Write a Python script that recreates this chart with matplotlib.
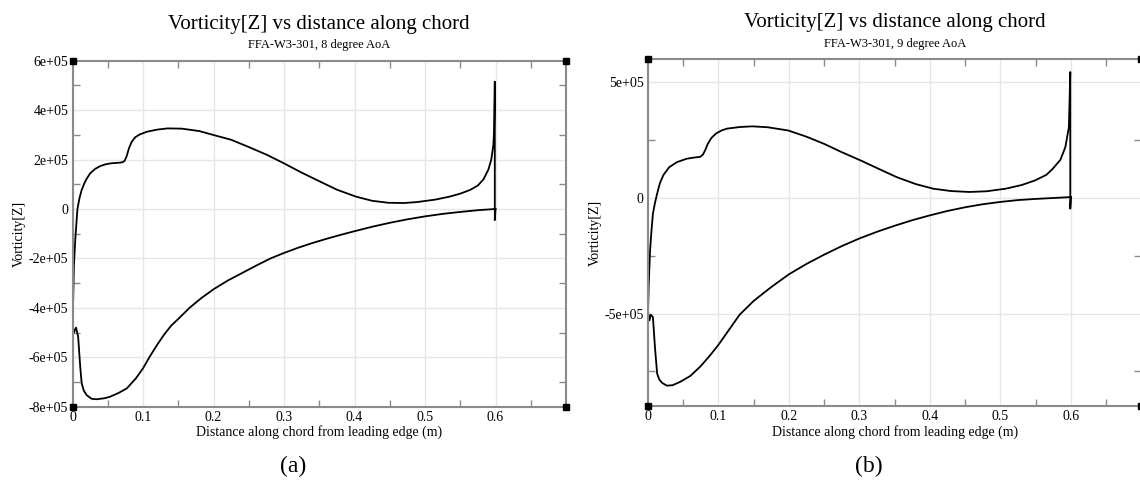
import numpy as np
import matplotlib
matplotlib.use("Agg")
import matplotlib.pyplot as plt
from matplotlib.ticker import MultipleLocator

plt.rcParams['font.family'] = ['Liberation Serif', 'DejaVu Serif']

# Panel (a): FFA-W3-301, 8 degree AoA
xa_upper = [0.0, 0.001, 0.002, 0.004, 0.007, 0.01, 0.013, 0.017, 0.02, 0.025, 0.032, 0.039, 0.046, 0.053,
            0.06, 0.066, 0.071, 0.074, 0.077, 0.08, 0.084, 0.089, 0.095, 0.105, 0.12, 0.135, 0.155, 0.18,
            0.199, 0.225, 0.248, 0.275, 0.299, 0.325, 0.351, 0.375, 0.402, 0.425, 0.448, 0.47, 0.489,
            0.515, 0.535, 0.55, 0.564, 0.575, 0.583, 0.59, 0.594, 0.597, 0.598, 0.599, 0.599, 0.6]
ya_upper = [-4.9e5, -3.6e5, -2.3e5, -1.2e5, 0.0, 0.45e5, 0.77e5, 1.05e5, 1.22e5, 1.44e5, 1.62e5, 1.73e5, 1.8e5,
            1.84e5, 1.86e5, 1.87e5, 1.89e5, 1.95e5, 2.15e5, 2.45e5, 2.72e5, 2.9e5, 3.01e5, 3.12e5, 3.21e5,
            3.26e5, 3.25e5, 3.15e5, 3.0e5, 2.8e5, 2.53e5, 2.2e5, 1.86e5, 1.47e5, 1.11e5, 0.78e5, 0.5e5, 0.33e5,
            0.25e5, 0.24e5, 0.28e5, 0.38e5, 0.5e5, 0.62e5, 0.77e5, 0.95e5, 1.2e5, 1.6e5, 2.0e5, 2.6e5, 3.2e5,
            5.15e5, -0.45e5, 0.0]
xa_lower = [0.0, 0.002, 0.005, 0.008, 0.011, 0.013, 0.016, 0.02, 0.027, 0.034, 0.045, 0.053, 0.065, 0.077,
            0.09, 0.1, 0.109, 0.12, 0.13, 0.14, 0.15, 0.166, 0.183, 0.2, 0.22, 0.24, 0.26, 0.281, 0.3, 0.32,
            0.34, 0.36, 0.38, 0.4, 0.425, 0.45, 0.475, 0.5, 0.525, 0.55, 0.575, 0.6]
ya_lower = [-4.7e5, -5.0e5, -4.8e5, -5.17e5, -6.4e5, -7.05e5, -7.35e5, -7.53e5, -7.68e5, -7.7e5, -7.66e5,
            -7.6e5, -7.45e5, -7.26e5, -6.85e5, -6.45e5, -6.0e5, -5.5e5, -5.08e5, -4.72e5, -4.45e5, -4.0e5,
            -3.6e5, -3.25e5, -2.9e5, -2.6e5, -2.3e5, -2.0e5, -1.78e5, -1.57e5, -1.38e5, -1.21e5, -1.05e5,
            -0.9e5, -0.72e5, -0.56e5, -0.42e5, -0.3e5, -0.2e5, -0.12e5, -0.05e5, 0.0]

# Panel (b): FFA-W3-301, 9 degree AoA
xb_upper = [0.0, 0.001, 0.003, 0.005, 0.007, 0.01, 0.013, 0.017, 0.022, 0.03, 0.041, 0.055, 0.068, 0.074,
            0.078, 0.081, 0.085, 0.09, 0.097, 0.105, 0.112, 0.13, 0.148, 0.17, 0.199, 0.225, 0.25, 0.275,
            0.302, 0.328, 0.353, 0.38, 0.405, 0.43, 0.456, 0.48, 0.507, 0.53, 0.549, 0.565, 0.574, 0.585,
            0.592, 0.597, 0.598, 0.599, 0.599, 0.6]
yb_upper = [-5.0e5, -3.8e5, -2.26e5, -1.4e5, -0.68e5, -0.2e5, 0.19e5, 0.65e5, 1.0e5, 1.33e5, 1.55e5, 1.7e5,
            1.76e5, 1.78e5, 1.88e5, 2.06e5, 2.35e5, 2.6e5, 2.8e5, 2.93e5, 3.0e5, 3.07e5, 3.1e5, 3.06e5, 2.92e5,
            2.65e5, 2.34e5, 1.98e5, 1.62e5, 1.25e5, 0.9e5, 0.6e5, 0.4e5, 0.3e5, 0.26e5, 0.29e5, 0.4e5, 0.56e5,
            0.76e5, 1.0e5, 1.26e5, 1.65e5, 2.2e5, 3.06e5, 4.2e5, 5.45e5, -0.46e5, 0.04e5]
xb_lower = [0.0, 0.002, 0.004, 0.007, 0.01, 0.013, 0.016, 0.02, 0.027, 0.035, 0.046, 0.06, 0.074, 0.087,
            0.1, 0.115, 0.13, 0.15, 0.175, 0.2, 0.225, 0.25, 0.275, 0.3, 0.325, 0.35, 0.375, 0.4, 0.425,
            0.45, 0.475, 0.5, 0.525, 0.55, 0.575, 0.6]
yb_lower = [-4.9e5, -5.3e5, -5.05e5, -5.15e5, -6.5e5, -7.6e5, -7.85e5, -8.0e5, -8.12e5, -8.1e5, -7.95e5,
            -7.7e5, -7.3e5, -6.85e5, -6.35e5, -5.7e5, -5.05e5, -4.45e5, -3.85e5, -3.3e5, -2.85e5, -2.45e5,
            -2.08e5, -1.75e5, -1.46e5, -1.2e5, -0.96e5, -0.75e5, -0.56e5, -0.4e5, -0.27e5, -0.17e5, -0.09e5,
            -0.04e5, 0.0, 0.04e5]

subtitles = ["FFA-W3-301, 8 degree AoA", "FFA-W3-301, 9 degree AoA"]
panel_labels = ["(a)", "(b)"]
ylims = [(-8e5, 6e5), (-9e5, 6e5)]
ymajor = [2e5, 5e5]


def xfmt(v, p):
    if v > 0.65:
        return ''
    return '0' if abs(v) < 1e-9 else f'{v:g}'


def yfmt(v, p):
    return '0' if abs(v) < 1e-3 else f'{v:.0e}'


fig = plt.figure(figsize=(11.4, 4.83), dpi=100)
axes = [fig.add_axes([0.0636, 0.158, 0.4329, 0.7164]),
        fig.add_axes([0.5684, 0.1594, 0.4329, 0.7178])]
data = [(xa_upper, ya_upper, xa_lower, ya_lower), (xb_upper, yb_upper, xb_lower, yb_lower)]

frame = '#8a8a8a'
for i, ax in enumerate(axes):
    xu, yu, xl, yl = data[i]
    ax.plot(xu, yu, color='black', lw=1.3)
    ax.plot(xl, yl, color='black', lw=1.3)
    ax.set_xlim(0, 0.7)
    ax.set_ylim(*ylims[i])
    ax.xaxis.set_major_locator(MultipleLocator(0.1))
    ax.xaxis.set_minor_locator(MultipleLocator(0.05))
    ax.yaxis.set_major_locator(MultipleLocator(ymajor[i]))
    ax.yaxis.set_minor_locator(MultipleLocator(ymajor[i] / 2))
    ax.xaxis.set_major_formatter(plt.FuncFormatter(xfmt))
    ax.yaxis.set_major_formatter(plt.FuncFormatter(yfmt))
    ax.grid(True, which='major', color='#e6e6e6', lw=1.0)
    ax.set_axisbelow(True)
    ax.tick_params(which='major', length=0, labelsize=10, pad=3)
    ax.tick_params(which='minor', direction='in', length=5, color=frame, width=1,
                   top=True, right=True, bottom=True, left=True)
    for s in ax.spines.values():
        s.set_color(frame)
        s.set_linewidth(1.5)
    ax.set_xlabel("Distance along chord from leading edge (m)", fontsize=10, labelpad=1)
    ax.set_ylabel("Vorticity[Z]", fontsize=10, labelpad=2)
    ax.text(0.5, 1.105, "Vorticity[Z] vs distance along chord", transform=ax.transAxes,
            ha='center', va='center', fontsize=15)
    ax.text(0.5, 1.045, subtitles[i], transform=ax.transAxes, ha='center', va='center', fontsize=9)
    # corner squares
    x0, x1 = ax.get_xlim()
    y0, y1 = ax.get_ylim()
    ax.plot([x0, x0, x1, x1], [y0, y1, y0, y1], 's', color='black', ms=5, clip_on=False, zorder=5)

fig.text(293 / 1140, 1 - 466 / 483, panel_labels[0], ha='center', va='center', fontsize=17)
fig.text(869 / 1140, 1 - 466 / 483, panel_labels[1], ha='center', va='center', fontsize=17)

fig.savefig("out.png", dpi=100, facecolor='white')
